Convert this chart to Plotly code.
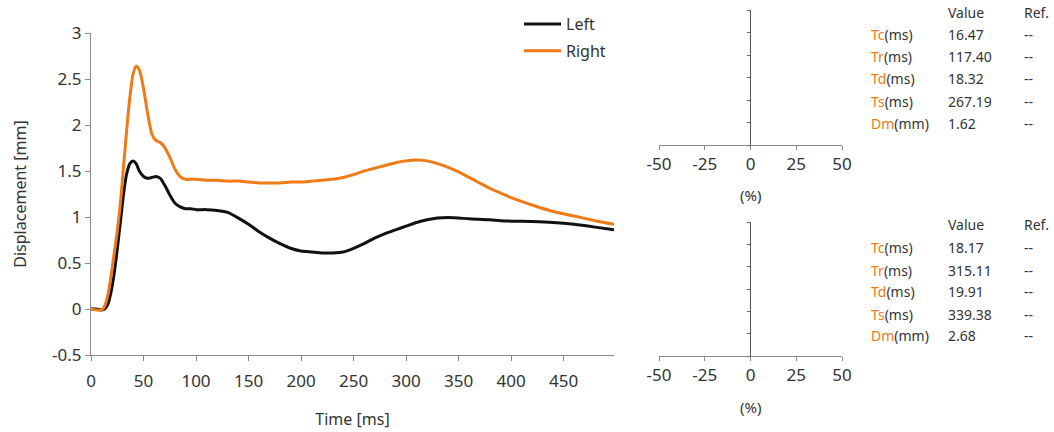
import plotly.graph_objects as go

# Displacement traces (time in ms, displacement in mm)
time_ms = [0, 5, 10, 13, 16, 19, 22, 25, 28, 31, 34, 37, 40, 43, 46, 50, 54, 58, 62, 66,
           70, 75, 80, 85, 90, 95, 100, 110, 120, 130, 140, 150, 160, 170, 180, 190, 200,
           210, 220, 230, 240, 250, 260, 270, 280, 290, 300, 310, 320, 330, 340, 350, 360,
           370, 380, 390, 400, 420, 440, 460, 480, 498]

left_mm = [0, 0, -0.01, 0.0, 0.05, 0.18, 0.38, 0.65, 0.95, 1.25, 1.47, 1.58, 1.61, 1.58,
           1.5, 1.44, 1.42, 1.43, 1.44, 1.42, 1.35, 1.24, 1.15, 1.11, 1.09, 1.09, 1.08, 1.08,
           1.07, 1.05, 0.99, 0.92, 0.84, 0.77, 0.71, 0.66, 0.63, 0.62, 0.61, 0.61, 0.62, 0.66,
           0.71, 0.77, 0.82, 0.86, 0.9, 0.94, 0.97, 0.99, 0.995, 0.99, 0.98, 0.975, 0.97, 0.96,
           0.955, 0.95, 0.94, 0.92, 0.89, 0.86]

right_mm = [0, -0.01, -0.01, 0.03, 0.15, 0.35, 0.6, 0.85, 1.15, 1.55, 1.95, 2.3, 2.55, 2.64,
            2.6, 2.4, 2.12, 1.9, 1.83, 1.81, 1.76, 1.65, 1.52, 1.44, 1.41, 1.41, 1.41, 1.40,
            1.40, 1.39, 1.39, 1.38, 1.37, 1.37, 1.37, 1.38, 1.38, 1.39, 1.40, 1.41, 1.43, 1.46,
            1.50, 1.53, 1.56, 1.59, 1.61, 1.62, 1.61, 1.58, 1.54, 1.49, 1.43, 1.37, 1.31, 1.26,
            1.21, 1.13, 1.06, 1.01, 0.96, 0.92]

# Parameter tables
param_names = ["Tc", "Tr", "Td", "Ts", "Dm"]
param_units = ["(ms)", "(ms)", "(ms)", "(ms)", "(mm)"]
left_values = ["16.47", "117.40", "18.32", "267.19", "1.62"]
right_values = ["18.17", "315.11", "19.91", "339.38", "2.68"]
ref_values = ["--", "--", "--", "--", "--"]

time_ticks = [0, 50, 100, 150, 200, 250, 300, 350, 400, 450]
disp_ticks = [-0.5, 0, 0.5, 1, 1.5, 2, 2.5, 3]
disp_labels = ["-0.5", "0", "0.5", "1", "1.5", "2", "2.5", "3"]
pct_ticks = [-50, -25, 0, 25, 50]
pct_labels = ["-50", "-25", "0", "25", "50"]

W, H = 1054, 432
FONT = "Noto Sans"
TXT = "#333333"
ORANGE = "#EF7A16"
AXIS = "#8a8a8a"


def px(x):
    return x / W


def py(y):
    return 1 - y / H


fig = go.Figure()
fig.add_trace(go.Scatter(x=time_ms, y=left_mm, name="Left", mode="lines", legendgroup="left",
                         line=dict(color="#111111", width=3, shape="spline", smoothing=0.6)))
fig.add_trace(go.Scatter(x=time_ms, y=right_mm, name="Right", mode="lines", legendgroup="right",
                         line=dict(color=ORANGE, width=3, shape="spline", smoothing=0.6)))

# empty deviation panels
fig.add_trace(go.Bar(x=[], y=[], xaxis="x2", yaxis="y2", showlegend=False, orientation="h"))
fig.add_trace(go.Bar(x=[], y=[], xaxis="x3", yaxis="y3", showlegend=False, orientation="h"))

common_tick = dict(tickfont=dict(family=FONT, size=17, color=TXT), ticks="outside",
                   tickcolor=AXIS, showline=True, linecolor=AXIS, linewidth=1,
                   showgrid=False, zeroline=False, automargin=False)

small_y = dict(range=[0, 6], tickvals=list(range(7)), ticklen=3, showticklabels=False,
               anchor="free", position=px(750), ticks="outside", tickcolor="#666",
               showline=True, linecolor="#555", showgrid=False, zeroline=False,
               automargin=False)

fig.update_layout(
    width=W, height=H,
    margin=dict(l=0, r=0, t=0, b=0),
    paper_bgcolor="white", plot_bgcolor="white",
    font=dict(family=FONT, color=TXT),
    xaxis=dict(domain=[px(91), px(614)], range=[0, 498], tickvals=time_ticks,
               ticktext=[str(t) for t in time_ticks], ticklen=5, ticklabelstandoff=6,
               title=dict(text="Time [ms]", font=dict(size=16, color=TXT), standoff=22),
               anchor="y", **common_tick),
    yaxis=dict(domain=[py(355), py(33)], range=[-0.5, 3], tickvals=disp_ticks,
               ticktext=disp_labels, ticklen=5,
               title=dict(text="Displacement [mm]", font=dict(size=16, color=TXT), standoff=21),
               anchor="x", **common_tick),
    xaxis2=dict(domain=[px(659), px(842)], range=[-50, 50], tickvals=pct_ticks,
                ticktext=pct_labels, ticklen=4, anchor="y2", **common_tick),
    yaxis2=dict(domain=[py(145), py(10)], **small_y),
    xaxis3=dict(domain=[px(659), px(842)], range=[-50, 50], tickvals=pct_ticks,
                ticktext=pct_labels, ticklen=4, anchor="y3", **common_tick),
    yaxis3=dict(domain=[py(356), py(222)], **small_y),
    legend=dict(x=px(519), y=py(7), xanchor="left", yanchor="top",
                font=dict(family=FONT, size=16, color=TXT), bgcolor="rgba(0,0,0,0)",
                itemwidth=37, traceorder="grouped", tracegroupgap=3),
)

annotations = []
for ycen in (195, 407):
    annotations.append(dict(text="(%)", x=px(750), y=py(ycen), xref="paper", yref="paper",
                            showarrow=False, font=dict(size=15, color=TXT),
                            xanchor="center", yanchor="middle"))


def add_table(values, header_y, row_ys):
    annotations.append(dict(text="Value", x=px(946), y=py(header_y), xref="paper", yref="paper",
                            showarrow=False, xanchor="left", yanchor="middle",
                            font=dict(size=14, color=TXT)))
    annotations.append(dict(text="Ref.", x=px(1022), y=py(header_y), xref="paper", yref="paper",
                            showarrow=False, xanchor="left", yanchor="middle",
                            font=dict(size=14, color=TXT)))
    for name, unit, val, ref, yy in zip(param_names, param_units, values, ref_values, row_ys):
        annotations.append(dict(text=f'<span style="color:{ORANGE}">{name}</span>{unit}',
                                x=px(869), y=py(yy), xref="paper", yref="paper",
                                showarrow=False, xanchor="left", yanchor="middle",
                                font=dict(size=14, color=TXT)))
        annotations.append(dict(text=val, x=px(946), y=py(yy), xref="paper", yref="paper",
                                showarrow=False, xanchor="left", yanchor="middle",
                                font=dict(size=14, color=TXT)))
        annotations.append(dict(text=ref, x=px(1022), y=py(yy), xref="paper", yref="paper",
                                showarrow=False, xanchor="left", yanchor="middle",
                                font=dict(size=14, color=TXT)))


add_table(left_values, 13, [34, 57, 79, 101, 123])
add_table(right_values, 224, [247, 270, 291, 314, 335])

fig.update_layout(annotations=annotations)
fig.write_html("out.html")
